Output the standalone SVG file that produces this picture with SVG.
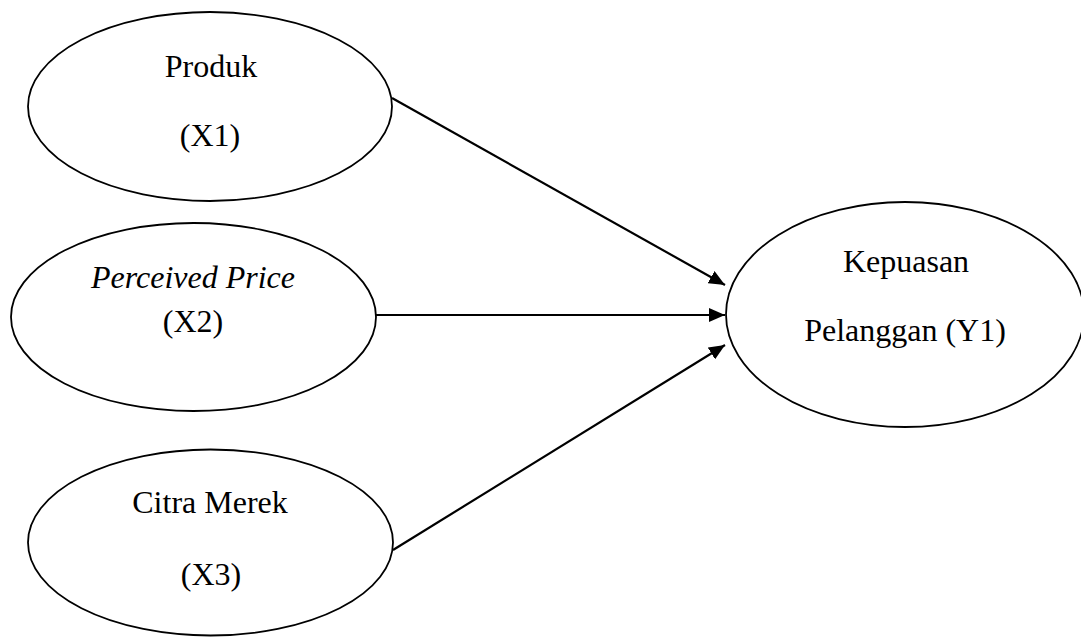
<svg xmlns="http://www.w3.org/2000/svg" width="1081" height="637" viewBox="0 0 1081 637">
<style>
.node{fill:#fff;stroke:#000;stroke-width:1.8}
.lbl{font-family:"Liberation Serif","Times New Roman",serif;font-size:32px;fill:#000;text-anchor:middle}
.it{font-style:italic}
.conn{stroke:#000;stroke-width:2.2;fill:none;marker-end:url(#ah)}
</style>
<defs>
<marker id="ah" markerUnits="userSpaceOnUse" viewBox="0 0 16 14" refX="16" refY="7" markerWidth="16" markerHeight="14" orient="auto">
<path d="M0,0 L16,7 L0,14 Z" fill="#000"/>
</marker>
</defs>
<g id="x1">
<ellipse class="node" cx="210" cy="106.5" rx="182" ry="94.5"/>
<text class="lbl" x="211" y="77">Produk</text>
<text class="lbl" x="210" y="146">(X1)</text>
</g>
<g id="x2">
<ellipse class="node" cx="193.5" cy="317" rx="182.5" ry="94"/>
<text class="lbl it" x="193" y="288">Perceived Price</text>
<text class="lbl" x="193" y="332">(X2)</text>
</g>
<g id="x3">
<ellipse class="node" cx="210.5" cy="542.5" rx="182.5" ry="93"/>
<text class="lbl" x="210" y="513">Citra Merek</text>
<text class="lbl" x="211" y="585">(X3)</text>
</g>
<g id="y1">
<ellipse class="node" cx="905" cy="314.5" rx="179" ry="112.5"/>
<text class="lbl" x="906" y="272">Kepuasan</text>
<text class="lbl" x="905" y="341">Pelanggan (Y1)</text>
</g>
<g id="connectors">
<line class="conn" x1="392" y1="98" x2="725" y2="285"/>
<line class="conn" x1="376" y1="315" x2="725" y2="315"/>
<line class="conn" x1="393" y1="550" x2="725" y2="345"/>
</g>
</svg>
